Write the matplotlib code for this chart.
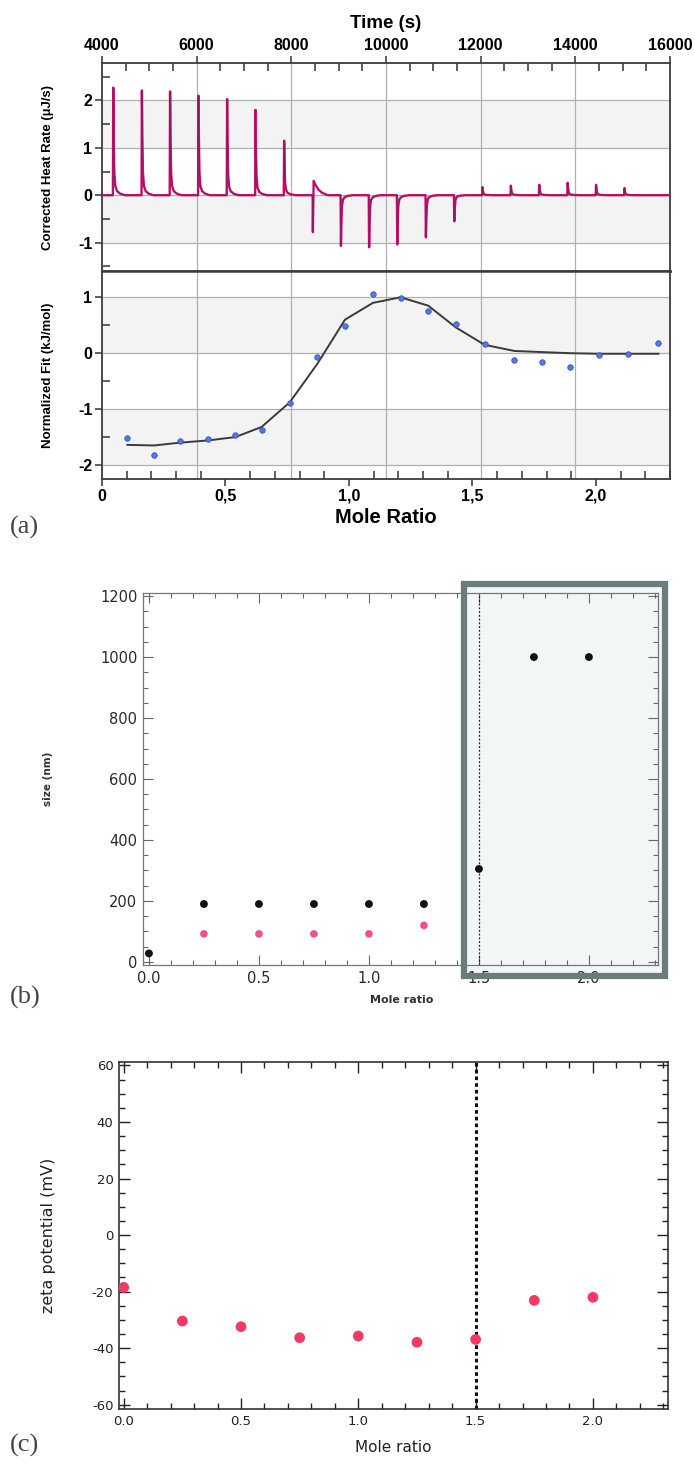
import numpy as np
import matplotlib.pyplot as plt
from matplotlib.patches import Rectangle
from matplotlib.ticker import MultipleLocator

plt.rcParams['axes.unicode_minus'] = False

W, H = 695, 1465

# (a) top: injection times (s) and peak heights (uJ/s) of the thermogram
inj_times = [4230, 4835, 5430, 6030, 6635, 7235, 7840,
             9040, 9635, 10230, 10835, 11435,
             12030, 12630, 13230, 13830, 14430, 15030]
inj_peaks = [2.27, 2.21, 2.19, 2.10, 2.03, 1.80, 1.15,
             -1.07, -1.10, -1.04, -0.89, -0.55,
             0.17, 0.20, 0.22, 0.26, 0.22, 0.15]
# shape of one injection: offset (s) and fraction of the peak
pulse_offsets = [0, 8, 18, 30, 50, 85, 150, 250]
pulse_fracs = [0, 1.0, 0.55, 0.22, 0.09, 0.04, 0.015, 0]
# injection at 8450 s: endothermic dip followed by a slow exothermic bump
mixed_time = 8450
mixed_offsets = [0, 5, 12, 22, 60, 120, 200, 320]
mixed_values = [0, -0.78, -0.25, 0.30, 0.22, 0.12, 0.05, 0]

# (a) bottom: integrated heats and fit
mole_ratio = [0.103, 0.211, 0.316, 0.430, 0.540, 0.646, 0.760, 0.872, 0.984, 1.097,
              1.209, 1.321, 1.433, 1.549, 1.670, 1.782, 1.895, 2.013, 2.130, 2.253]
heat = [-1.52, -1.82, -1.57, -1.53, -1.47, -1.37, -0.89, -0.07, 0.49, 1.06,
        0.98, 0.76, 0.53, 0.17, -0.12, -0.16, -0.24, -0.04, -0.01, 0.19]
fit = [-1.64, -1.65, -1.60, -1.56, -1.50, -1.32, -0.88, -0.19, 0.60, 0.90,
       1.00, 0.85, 0.46, 0.15, 0.04, 0.02, 0.00, -0.01, -0.01, -0.01]

# (b) particle size
size_x_black = [0.0, 0.25, 0.5, 0.75, 1.0, 1.25, 1.5, 1.75, 2.0]
size_black = [28, 190, 190, 190, 190, 190, 305, 1000, 1000]
size_x_pink = [0.25, 0.5, 0.75, 1.0, 1.25]
size_pink = [92, 92, 92, 92, 120]

# (c) zeta potential
zeta_x = [0.0, 0.25, 0.5, 0.75, 1.0, 1.25, 1.5, 1.75, 2.0]
zeta = [-18.5, -30.4, -32.4, -36.3, -35.7, -37.9, -36.9, -23.1, -22.0]


def fig_rect(x0, y0, x1, y1):
    return [x0 / W, 1 - y1 / H, (x1 - x0) / W, (y1 - y0) / H]


fig = plt.figure(figsize=(W / 100, H / 100), dpi=100)
bold = dict(family='Liberation Sans', weight='bold')

# ---------- (a) top: raw thermogram ----------
a1 = fig.add_axes(fig_rect(102, 63, 670, 271))
a2 = fig.add_axes(fig_rect(102, 271, 670, 479))

t_trace = [4000]
y_trace = [0.0]
events = [(t, pulse_offsets, [p * f for f in pulse_fracs]) for t, p in zip(inj_times, inj_peaks)]
events.append((mixed_time, mixed_offsets, mixed_values))
events.sort(key=lambda e: e[0])
for t0, offs, vals in events:
    t_trace += [t0 + o for o in offs]
    y_trace += list(vals)
t_trace.append(16000)
y_trace.append(0.0)

a1.set_xlim(4000, 16000)
a1.set_ylim(-1.6, 2.79)
for lo, hi in [(1, 2), (-1, 0)]:
    a1.axhspan(lo, hi, color='#f3f3f3', zorder=0, lw=0)
for yv in [2, 1, 0, -1]:
    a1.axhline(yv, color='#b0b0b0', lw=0.9, zorder=1)
for xv in [6000, 8000, 10000, 12000, 14000]:
    a1.axvline(xv, color='#b0b0b0', lw=0.9, zorder=1)
a1.plot(t_trace, y_trace, color='#c8126a', lw=1.7, zorder=3)
a1.plot(t_trace, y_trace, color='#7a1a5e', lw=0.6, zorder=4, alpha=0.7)

a1.xaxis.tick_top()
a1.set_xticks(np.arange(4000, 16001, 2000))
a1.xaxis.set_minor_locator(MultipleLocator(500))
a1.set_yticks([2, 1, 0, -1])
a1.yaxis.set_minor_locator(MultipleLocator(0.5))
a1.tick_params(axis='both', which='major', direction='out', length=5, width=1.1,
               color='#333', labelsize=11.5, pad=2)
a1.tick_params(axis='both', which='minor', direction='in', length=6, width=1.1, color='#333')
a1.tick_params(axis='x', which='both', top=True, bottom=False)
a1.tick_params(axis='y', which='both', left=True, right=False)
for lab in a1.get_xticklabels() + a1.get_yticklabels():
    lab.set_fontproperties(dict(**bold, size=11.5))
a1.set_ylabel('Corrected Heat Rate (µJ/s)', fontsize=9.5, **bold)

# ---------- (a) bottom: integrated heats ----------
a2.set_xlim(0, 2.30)
a2.set_ylim(-2.25, 1.47)
for lo, hi in [(0, 1), (-2, -1)]:
    a2.axhspan(lo, hi, color='#f3f3f3', zorder=0, lw=0)
for yv in [1, 0, -1, -2]:
    a2.axhline(yv, color='#b0b0b0', lw=0.9, zorder=1)
# vertical grid follows the time axis of the top plot
for tv in [6000, 8000, 10000, 12000, 14000]:
    a2.axvline((tv - 4000) / 12000 * 2.30, color='#b0b0b0', lw=0.9, zorder=1)
a2.plot(mole_ratio, fit, color='#3a3a3a', lw=1.4, zorder=3)
a2.scatter(mole_ratio, heat, s=16, color='#5477e0', edgecolors='#2c4fb8',
           linewidths=0.5, zorder=4)
a2.set_xticks([0, 0.5, 1.0, 1.5, 2.0])
a2.set_xticklabels(['0', '0,5', '1,0', '1,5', '2,0'])
a2.xaxis.set_minor_locator(MultipleLocator(0.1))
a2.set_yticks([1, 0, -1, -2])
a2.yaxis.set_minor_locator(MultipleLocator(0.5))
a2.tick_params(axis='both', which='major', direction='out', length=5, width=1.1,
               color='#333', labelsize=11.5, pad=2)
a2.tick_params(axis='both', which='minor', direction='in', length=6, width=1.1, color='#333')
a2.tick_params(axis='x', which='both', top=False, bottom=True)
a2.tick_params(axis='y', which='both', left=True, right=False)
for lab in a2.get_xticklabels() + a2.get_yticklabels():
    lab.set_fontproperties(dict(**bold, size=11.5))
a2.set_ylabel('Normalized Fit (kJ/mol)', fontsize=9.5, **bold)

for ax in (a1, a2):
    for sp in ax.spines.values():
        sp.set_color('#3c3c3c')
        sp.set_linewidth(1.3)
a1.spines['bottom'].set_linewidth(1.8)
a2.spines['top'].set_linewidth(1.8)
a1.yaxis.set_label_coords(-0.085, 0.5)
a2.yaxis.set_label_coords(-0.085, 0.5)

fig.text(386 / W, 1 - 23 / H, 'Time (s)', ha='center', va='center', fontsize=13.5, **bold)
fig.text(386 / W, 1 - 517 / H, 'Mole Ratio', ha='center', va='center', fontsize=14.5, **bold)

# ---------- (b) particle size ----------
fig.add_artist(Rectangle((464 / W, 1 - 976 / H), 201 / W, 392 / H, transform=fig.transFigure,
                         facecolor='#f3f6f6', edgecolor='none', zorder=-1))
ab = fig.add_axes(fig_rect(143, 593, 658, 965))
ab.set_facecolor('none')
ab.set_xlim(-0.027, 2.314)
ab.set_ylim(-10, 1210)
ab.axvline(1.5, color='#222', lw=0.9, ls=(0, (1.5, 1.5)), zorder=2)
ab.scatter(size_x_pink, size_pink, s=30, color='#ee5088', edgecolors='none', zorder=3)
ab.scatter(size_x_black, size_black, s=32, color='#111', edgecolors='none', zorder=3)
ab.set_xticks([0, 0.5, 1.0, 1.5, 2.0])
ab.xaxis.set_major_formatter(lambda v, p: f'{v:.1f}')
ab.xaxis.set_minor_locator(MultipleLocator(0.1))
ab.set_yticks(range(0, 1201, 200))
ab.yaxis.set_minor_locator(MultipleLocator(50))
ab.tick_params(axis='both', which='both', direction='in', top=True, right=True,
               color='#666', width=0.8)
ab.tick_params(axis='both', which='major', length=7, labelsize=10.5, labelcolor='#2a2a2a', pad=4)
ab.tick_params(axis='both', which='minor', length=3.5)
for sp in ab.spines.values():
    sp.set_color('#777')
    sp.set_linewidth(0.9)
ab.set_ylabel('size (nm)', fontsize=7.5, color='#333', fontweight='bold')
ab.yaxis.set_label_coords(-0.175, 0.5)
fig.text(402 / W, 1 - 1000 / H, 'Mole ratio', ha='center', va='center', fontsize=8,
         color='#333', fontweight='bold')
fig.add_artist(Rectangle((464 / W, 1 - 976 / H), 201 / W, 392 / H, transform=fig.transFigure,
                         fill=False, edgecolor='#6c7c7c', lw=4.5, zorder=5))

# ---------- (c) zeta potential ----------
ac = fig.add_axes(fig_rect(119, 1062, 668, 1409))
ac.set_xlim(-0.02, 2.32)
ac.set_ylim(-61.5, 61.2)
ac.axvline(1.5, color='#111', lw=2.2, ls=(0, (1.2, 1.0)), zorder=2)
ac.scatter(zeta_x, zeta, s=60, color='#f23a62', edgecolors='none', zorder=3)
ac.set_xticks([0, 0.5, 1.0, 1.5, 2.0])
ac.xaxis.set_major_formatter(lambda v, p: f'{v:.1f}')
ac.xaxis.set_minor_locator(MultipleLocator(0.1))
ac.set_yticks(range(-60, 61, 20))
ac.yaxis.set_minor_locator(MultipleLocator(5))
ac.tick_params(axis='both', which='both', direction='in', top=True, right=True,
               color='#222', width=1.0)
ac.tick_params(axis='both', which='major', length=8, labelsize=9.5, labelcolor='#222', pad=4)
ac.tick_params(axis='both', which='minor', length=4)
for sp in ac.spines.values():
    sp.set_color('#333')
    sp.set_linewidth(1.2)
ac.set_ylabel('zeta potential (mV)', fontsize=11.5, color='#222')
ac.yaxis.set_label_coords(-0.115, 0.5)
fig.text(393 / W, 1 - 1448 / H, 'Mole ratio', ha='center', va='center', fontsize=11,
         color='#222')

# panel letters
for letter, y in [('(a)', 527), ('(b)', 997), ('(c)', 1445)]:
    fig.text(10 / W, 1 - y / H, letter, ha='left', va='center', fontsize=19,
             family='Liberation Serif', color='#444')

fig.savefig('out.png', dpi=100)
